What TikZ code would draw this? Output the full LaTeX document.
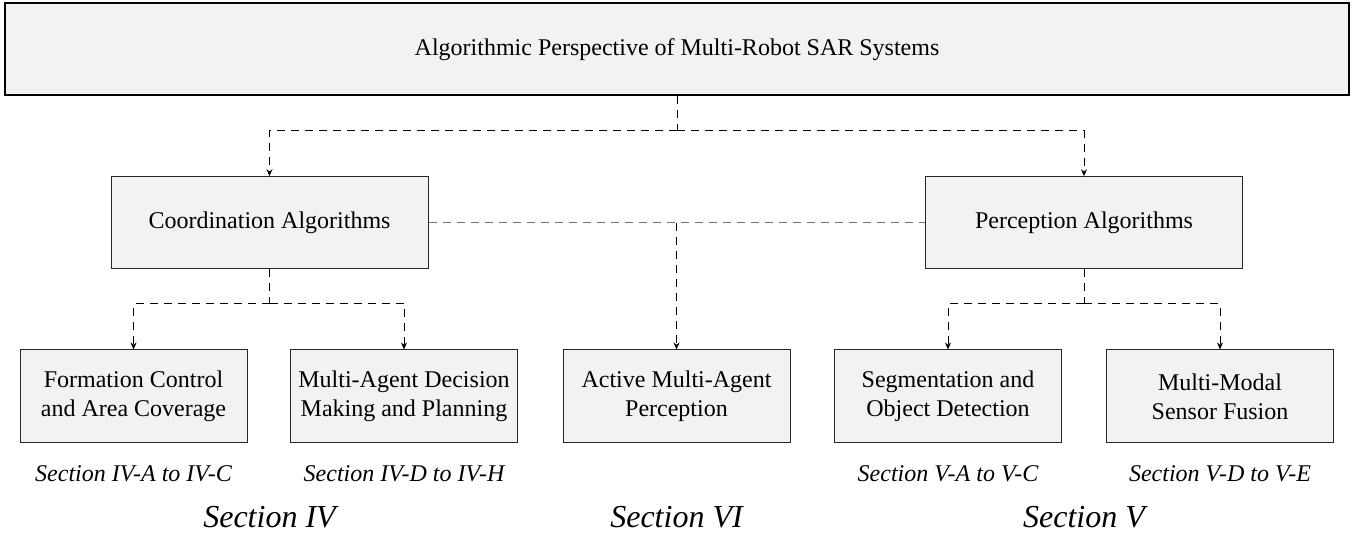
\documentclass[tikz,border=0pt]{standalone}
\usepackage{fontspec}
\setmainfont{Liberation Serif}
\usetikzlibrary{arrows.meta}

\tikzset{
  box/.style={draw=black!85, fill=black!5, line width=0.5pt, align=center,
    inner sep=2pt, font=\fontsize{12}{14.5}\selectfont},
  topbox/.style={box, draw=black, line width=1pt, minimum width=672pt, minimum height=46pt},
  midbox/.style={box, minimum width=158.5pt, minimum height=46pt},
  leafbox/.style={box, minimum width=113.5pt, minimum height=46.5pt},
  link/.style={draw=black, line width=0.5pt, dash pattern=on 4pt off 3pt},
  greylink/.style={link, draw=black!55},
  tip/.style={-{Stealth[length=3.5pt,width=3pt]}},
  sublabel/.style={font=\itshape\fontsize{12}{14.5}\selectfont},
  seclabel/.style={font=\itshape\fontsize{16}{19}\selectfont}
}

\begin{document}
\begin{tikzpicture}[x=0.5pt,y=-0.5pt]
        \useasboundingbox (0,0) rectangle (1359,533);
        %% top level
        \node[topbox] (top) at (677,49.3) {Algorithmic Perspective of Multi-Robot SAR Systems};
        %% second level
        \node[midbox] (coord) at (269.5,222.7) {Coordination Algorithms};
        \node[midbox] (perc) at (1084,222.7) {Perception Algorithms};
        %% leaves
        \node[leafbox] (form) at (133.5,396.5) {Formation Control\\and Area Coverage};
        \node[leafbox] (dec) at (404,396.5) {Multi-Agent Decision\\Making and Planning};
        \node[leafbox] (act) at (676.5,396.5) {Active Multi-Agent\\Perception};
        \node[leafbox] (seg) at (948,396.5) {Segmentation and\\Object Detection};
        \node[leafbox] (fus) at (1220,396.5) {Multi-Modal\\Sensor Fusion};
        %% connectors
        \coordinate (j0) at (677,130.7);
        \draw[link] (top.south) -- (j0);
        \draw[link,tip] (j0) -| (coord.north);
        \draw[link,tip] (j0) -| (perc.north);
        \draw[greylink] (coord.east) -- (perc.west);
        \draw[link,tip] (act.north |- coord.east) -- (act.north);
        \coordinate (j1) at (269.5,304);
        \draw[link] (coord.south) -- (j1);
        \draw[link,tip] (j1) -| (form.north);
        \draw[link,tip] (j1) -| (dec.north);
        \coordinate (j2) at (1084,304);
        \draw[link] (perc.south) -- (j2);
        \draw[link,tip] (j2) -| (seg.north);
        \draw[link,tip] (j2) -| (fus.north);
        %% section labels
        \node[sublabel] (formsec) at (133.5,474) {Section IV-A to IV-C};
        \node[sublabel] (decsec) at (404,474) {Section IV-D to IV-H};
        \node[sublabel] (segsec) at (948,474) {Section V-A to V-C};
        \node[sublabel] (fussec) at (1220,474) {Section V-D to V-E};
        \node[seclabel] (sec4) at (269.5,517) {Section IV};
        \node[seclabel] (sec6) at (676.5,517) {Section VI};
        \node[seclabel] (sec5) at (1084,517) {Section V};
    \end{tikzpicture}
\end{document}
